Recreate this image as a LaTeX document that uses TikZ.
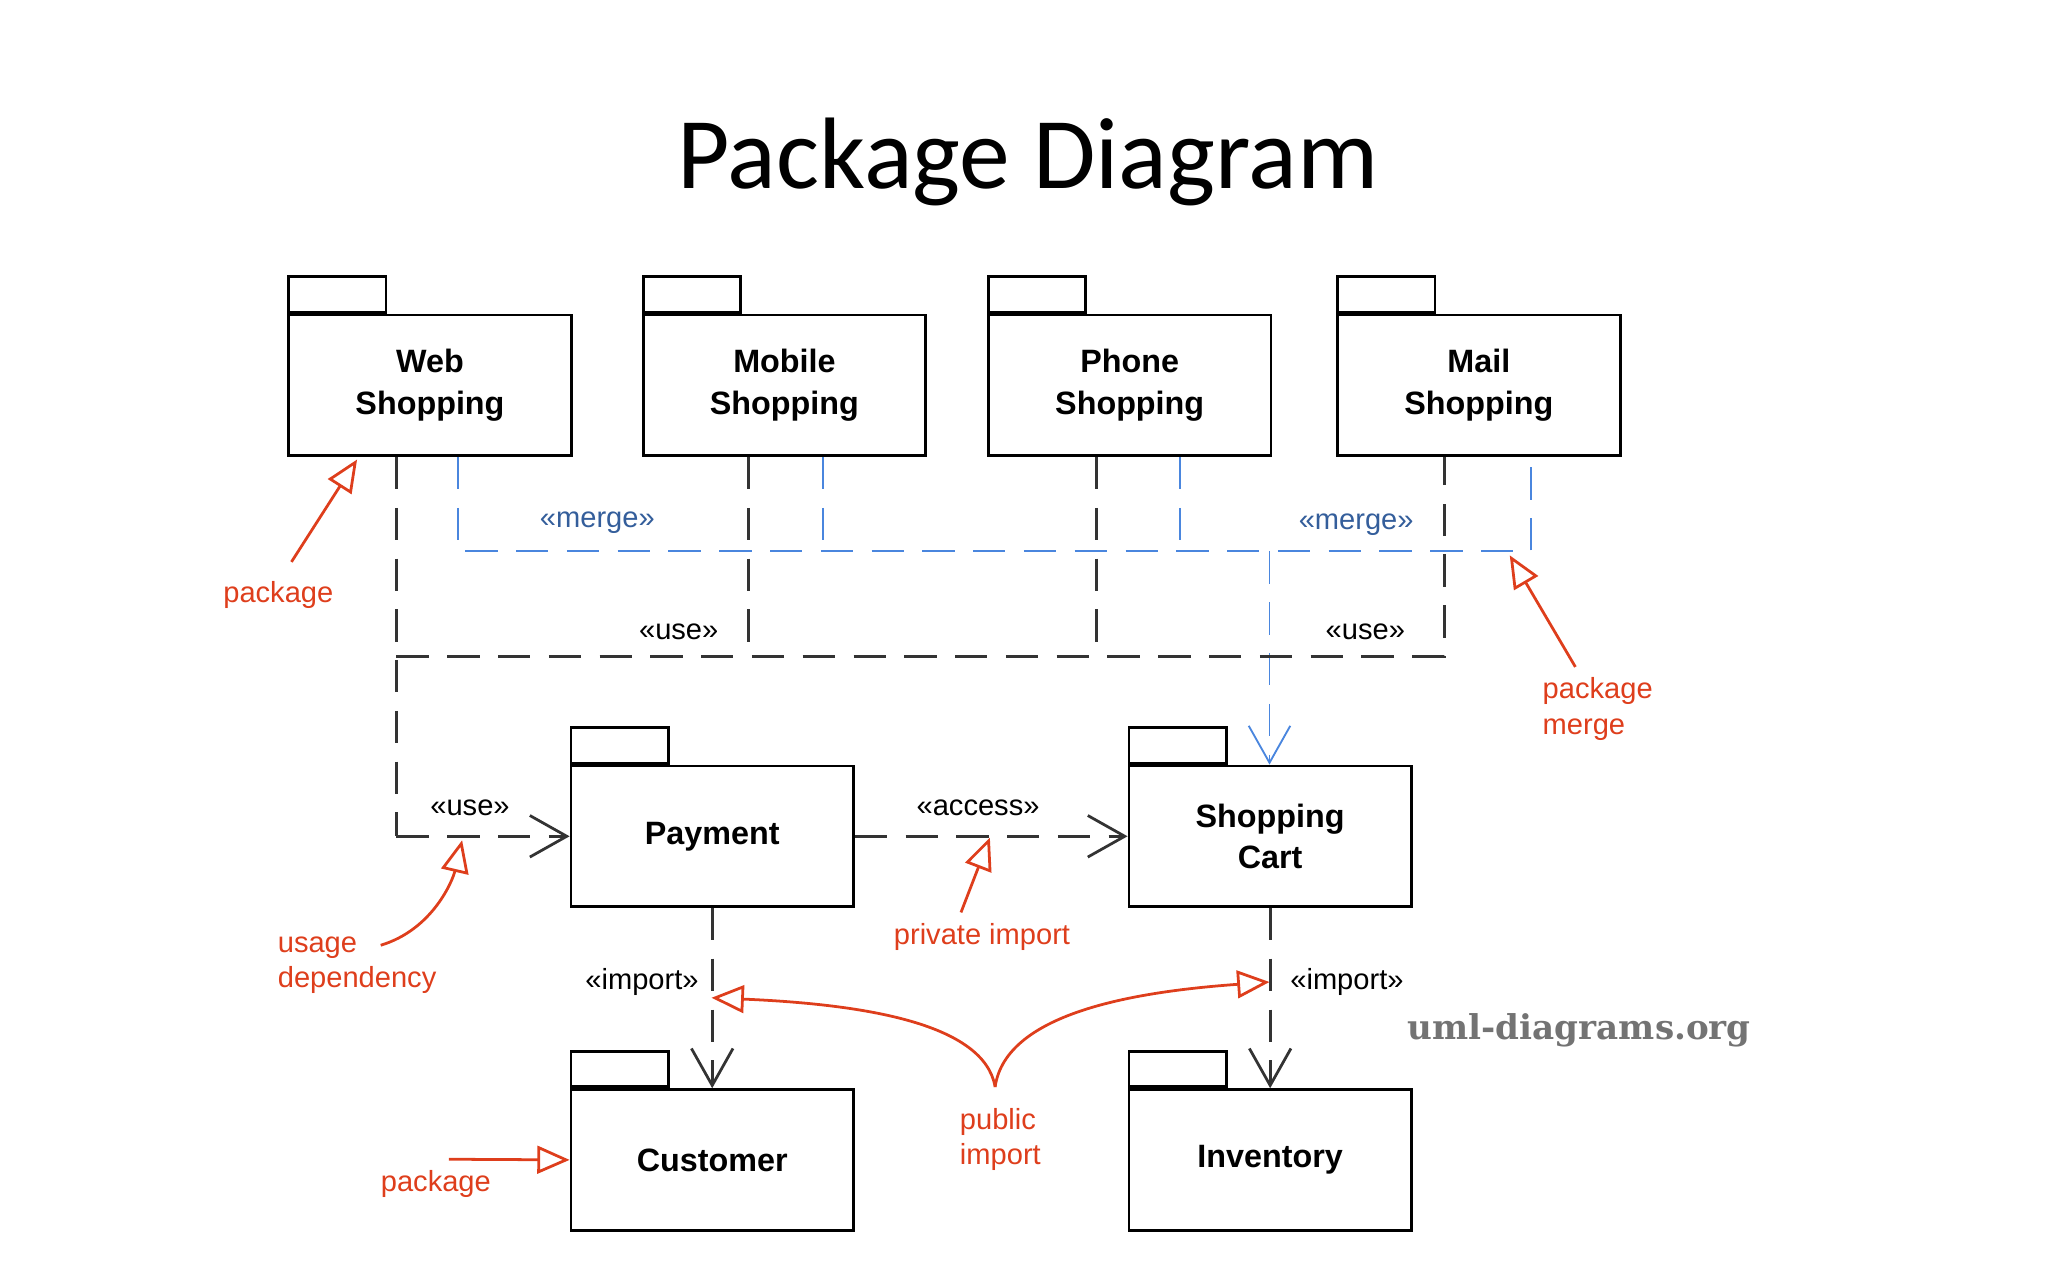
\documentclass[tikz,border=0pt]{standalone}
\usepackage{fontspec}
\setmainfont{Liberation Sans}
\newfontfamily\titlefont{Carlito}
\usetikzlibrary{arrows.meta,positioning,calc}
\definecolor{annot}{RGB}{222,62,28}
\definecolor{mergeblue}{RGB}{74,134,222}
\tikzset{
  pkg/.style={draw, semithick, minimum width=2.15cm, minimum height=1.07cm, align=center, font=\bfseries\fontsize{7}{9}\selectfont},
  tab/.style={draw, semithick, minimum width=0.74cm, minimum height=0.27cm, anchor=south west, inner sep=0pt},
  dep/.style={semithick, dash pattern=on 7pt off 4pt, black!80},
  mrg/.style={mergeblue, dash pattern=on 7pt off 4pt},
  stereo/.style={font=\fontsize{6.3}{7}\selectfont},
  note/.style={annot, font=\fontsize{6.3}{7.6}\selectfont, align=left},
  pointer/.style={annot, semithick, -{Triangle[open,length=7pt,width=6pt]}},
  head/.style={-{Straight Barb[length=8pt,width=9pt]}}
}
\newcommand{\package}[4]{% name, x, y, text
  \node[pkg] (#1) at (#2,#3) {#4};
  \node[tab] (#1tab) at (#1.north west) {};
}
\begin{document}
\begin{tikzpicture}[x=0.01cm,y=-0.01cm]
  \useasboundingbox (0,0) rectangle (1560,975);
  \node[font=\titlefont\fontsize{22}{26}\selectfont] (title) at (783,123) {Package Diagram};

  % packages
  \package{web}{327.5}{293.5}{Web\\Shopping}
  \package{mobile}{597.5}{293.5}{Mobile\\Shopping}
  \package{phone}{860.5}{293.5}{Phone\\Shopping}
  \package{mail}{1126.5}{293.5}{Mail\\Shopping}
  \package{payment}{542.5}{637}{Payment}
  \package{cart}{967.5}{637}{Shopping\\Cart}
  \package{customer}{542.5}{883.5}{Customer}
  \package{inventory}{967.5}{883.5}{Inventory}

  % merge lines
  \coordinate (mleft) at (349,420);
  \coordinate (mright) at (1166,420);
  \coordinate (mdown) at (967,420);
  \draw[mrg] (web.south -| mleft) -- (mleft) -- (mright) -- (mail.south -| mright);
  \draw[mrg] (mobile.south -| 627,0) -- (627,420);
  \draw[mrg] (phone.south -| 899,0) -- (899,420);
  \draw[mrg, head] (mdown) -- (cart.north -| mdown);
  \node[stereo, mergeblue!70!black] (merge1) at (455,398) {«merge»};
  \node[stereo, mergeblue!70!black] (merge2) at (1033,400) {«merge»};

  % use lines
  \coordinate (uleft) at (302,500);
  \coordinate (uright) at (1100,500);
  \draw[dep] (web.south -| uleft) -- (uleft |- payment.west) coordinate (ucorner);
  \draw[dep, head] (ucorner) -- (payment.west);
  \draw[dep] (uleft) -- (uright) -- (mail.south -| uright);
  \draw[dep] (mobile.south -| 570,0) -- (570,500);
  \draw[dep] (phone.south -| 835,0) -- (835,492);
  \node[stereo] (use1) at (517,481) {«use»};
  \node[stereo] (use2) at (1040,481) {«use»};
  \node[stereo] (use3) at (358,615) {«use»};

  % access and import
  \draw[dep, head] (payment.east) -- (cart.west);
  \node[stereo] (access) at (745,615) {«access»};
  \draw[dep, head] (payment.south) -- (customer.north);
  \draw[dep, head] (cart.south) -- (inventory.north);
  \node[stereo] (import1) at (489,748) {«import»};
  \node[stereo] (import2) at (1026,748) {«import»};

  % annotations
  \node[note] (npkg1) at (212,453) {package};
  \draw[pointer] (222,428) -- (272,350);
  \node[note] (nmerge) at (1217,540) {package\\merge};
  \draw[pointer] (1200,508) -- (1150,423);
  \node[note] (nusage) at (272,735) {usage\\dependency};
  \draw[pointer] (290,720) .. controls (330,708) and (345,670) .. (352,640);
  \node[note] (npriv) at (748,714) {private import};
  \draw[pointer] (732,695) -- (754,638);
  \node[note] (npub) at (762,868) {public\\import};
  \draw[pointer] (758,828) .. controls (750,780) and (660,765) .. (542,760);
  \draw[pointer] (758,828) .. controls (766,770) and (870,755) .. (967,748);
  \node[note] (npkg2) at (332,902) {package};
  \draw[pointer] (342,883) -- (customer.west);

  \node[font=\bfseries\fontsize{7.4}{9}\selectfont, text=black!55] (site) at (1203,785) {\fontspec{DejaVu Serif}uml-diagrams.org};
\end{tikzpicture}
\end{document}
